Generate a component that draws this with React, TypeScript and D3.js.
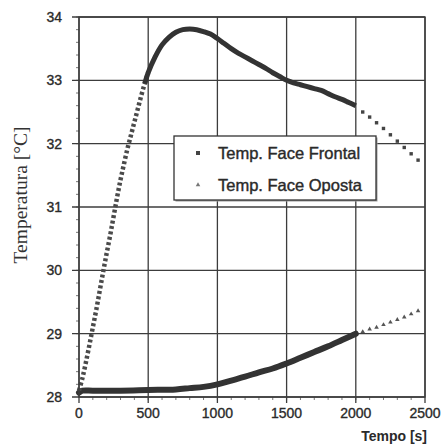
import React, { useEffect, useRef } from 'react'
import * as d3 from 'd3'

// Temperature of the front face (squares) - dense run up to 2000 s
const frontTime = [0, 25, 50, 75, 100, 125, 150, 175, 200, 225, 250, 275, 300, 325, 350, 375, 400, 425, 450, 475, 500,
  550, 600, 650, 700, 750, 800, 850, 900, 950, 1000, 1050, 1100, 1150, 1200, 1250, 1300, 1350, 1400, 1450, 1500,
  1550, 1600, 1650, 1700, 1750, 1800, 1850, 1900, 1950, 2000]
const frontTemp = [28.1, 28.3, 28.55, 28.82, 29.1, 29.38, 29.68, 29.98, 30.27, 30.55, 30.85, 31.15, 31.43, 31.68, 31.92, 32.13, 32.34, 32.55, 32.76, 32.95, 33.12,
  33.37, 33.56, 33.68, 33.76, 33.8, 33.81, 33.8, 33.77, 33.73, 33.66, 33.58, 33.5, 33.43, 33.37, 33.31, 33.25, 33.19, 33.12, 33.06, 33.0,
  32.96, 32.93, 32.9, 32.87, 32.84, 32.79, 32.74, 32.7, 32.65, 32.6]

// sparse points after 2000 s
const frontTailTime = [2050, 2100, 2150, 2200, 2250, 2300, 2350, 2400, 2450]
const frontTailTemp = [32.5, 32.42, 32.33, 32.24, 32.14, 32.04, 31.94, 31.84, 31.74]

// Temperature of the opposite face (triangles)
const backTime = [0, 25, 100, 300, 500, 700, 800, 900, 1000, 1100, 1200, 1300, 1400, 1500, 1600, 1700, 1800, 1900, 2000]
const backTemp = [28.07, 28.1, 28.1, 28.1, 28.11, 28.12, 28.14, 28.16, 28.2, 28.26, 28.32, 28.39, 28.45, 28.53, 28.62, 28.71, 28.8, 28.9, 29.0]

const backTailTime = [2050, 2100, 2150, 2200, 2250, 2300, 2350, 2400, 2450]
const backTailTemp = [29.03, 29.07, 29.1, 29.14, 29.18, 29.22, 29.26, 29.31, 29.36]

const xTicks = [0, 500, 1000, 1500, 2000, 2500]
const yTicks = [28, 29, 30, 31, 32, 33, 34]
const seriesNames = ['Temp. Face Frontal', 'Temp. Face Oposta']

const width = 447
const height = 445
const margin = { top: 17, right: 22, bottom: 48, left: 79 }

const App = () => {
  const svgRef = useRef<SVGSVGElement>(null)

  useEffect(() => {
    const svg = d3.select(svgRef.current)
    svg.selectAll('*').remove()

    const x = d3.scaleLinear().domain([0, 2500]).range([margin.left, width - margin.right])
    const y = d3.scaleLinear().domain([28, 34]).range([height - margin.bottom, margin.top])
    const ink = '#2a2a2a'
    const grid = '#3c3c3c'
    const sans = '"Liberation Sans", Arial, sans-serif'

    svg.append('rect').attr('width', width).attr('height', height).attr('fill', '#fff')

    // minor ticks outside the frame
    const minorX = d3.range(100, 2500, 100)
    svg.append('g').selectAll('line').data(minorX).enter().append('line')
      .attr('x1', d => x(d)).attr('x2', d => x(d))
      .attr('y1', y(28)).attr('y2', y(28) + 3)
      .attr('stroke', '#777').attr('stroke-width', 1)
    const minorY = d3.range(28.2, 34, 0.2)
    svg.append('g').selectAll('line').data(minorY).enter().append('line')
      .attr('x1', x(0)).attr('x2', x(0) - 3)
      .attr('y1', d => y(d)).attr('y2', d => y(d))
      .attr('stroke', '#777').attr('stroke-width', 1)

    // grid + major ticks
    svg.append('g').selectAll('line').data(xTicks).enter().append('line')
      .attr('x1', d => x(d)).attr('x2', d => x(d))
      .attr('y1', y(34)).attr('y2', y(28) + 6)
      .attr('stroke', grid).attr('stroke-width', 1.3)
    svg.append('g').selectAll('line').data(yTicks).enter().append('line')
      .attr('x1', x(0) - 7).attr('x2', x(2500))
      .attr('y1', d => y(d)).attr('y2', d => y(d))
      .attr('stroke', grid).attr('stroke-width', 1.3)

    // tick labels
    svg.append('g').selectAll('text').data(yTicks).enter().append('text')
      .attr('x', x(0) - 17).attr('y', d => y(d)).attr('dy', '0.36em')
      .attr('text-anchor', 'end')
      .style('font-family', sans).style('font-size', '14px')
      .attr('fill', ink).attr('stroke', ink).attr('stroke-width', 0.35)
      .text(d => d)
    svg.append('g').selectAll('text').data(xTicks).enter().append('text')
      .attr('x', d => x(d)).attr('y', y(28) + 21)
      .attr('text-anchor', 'middle')
      .style('font-family', sans).style('font-size', '14px')
      .attr('fill', ink).attr('stroke', ink).attr('stroke-width', 0.35)
      .text(d => d)

    // axis titles
    svg.append('text')
      .attr('x', 427).attr('y', 441).attr('text-anchor', 'end')
      .style('font-family', sans).style('font-size', '14px')
      .style('font-weight', 'bold').attr('fill', ink)
      .text('Tempo [s]')
    svg.append('text')
      .attr('transform', `translate(27, 195) rotate(-90)`).attr('text-anchor', 'middle')
      .style('font-family', '"Liberation Serif", "Times New Roman", serif').style('font-size', '19.5px')
      .attr('fill', '#333')
      .text('Temperatura [°C]')

    const line = d3.line<[number, number]>()
      .x(d => x(d[0])).y(d => y(d[1]))
      .curve(d3.curveCatmullRom)

    const front: [number, number][] = frontTime.map((t, i) => [t, frontTemp[i]])
    const back: [number, number][] = backTime.map((t, i) => [t, backTemp[i]])

    // opposite face - thick run
    svg.append('path').datum(back).attr('d', line)
      .attr('fill', 'none').attr('stroke', '#333').attr('stroke-width', 6)
      .attr('stroke-linecap', 'round')

    // front face - steep rise shows separated markers
    svg.append('path').datum(front.filter(d => d[0] <= 500)).attr('d', line)
      .attr('fill', 'none').attr('stroke', '#4a4a4a').attr('stroke-width', 4.5)
      .attr('stroke-dasharray', '3,2.5')
    svg.append('path').datum(front.filter(d => d[0] >= 475)).attr('d', line)
      .attr('fill', 'none').attr('stroke', '#333').attr('stroke-width', 5)

    // sparse tail markers
    svg.append('g').selectAll('rect').data(frontTailTime).enter().append('rect')
      .attr('x', (d) => x(d) - 1.7).attr('y', (d, i) => y(frontTailTemp[i]) - 1.7)
      .attr('width', 3.4).attr('height', 3.4).attr('fill', '#444')
    const tri = d3.symbol().type(d3.symbolTriangle).size(9)
    svg.append('g').selectAll('path').data(backTailTime).enter().append('path')
      .attr('d', tri)
      .attr('transform', (d, i) => `translate(${x(d)},${y(backTailTemp[i])})`)
      .attr('fill', '#555')

    // frame
    svg.append('rect')
      .attr('x', x(0)).attr('y', y(34))
      .attr('width', x(2500) - x(0)).attr('height', y(28) - y(34))
      .attr('fill', 'none').attr('stroke', grid).attr('stroke-width', 1.4)

    // legend
    const lg = svg.append('g').attr('transform', 'translate(174,136)')
    lg.append('rect').attr('x', 1.5).attr('y', 1.5).attr('width', 202).attr('height', 64)
      .attr('fill', '#999')
    lg.append('rect').attr('width', 202).attr('height', 64)
      .attr('fill', '#fff').attr('stroke', '#333').attr('stroke-width', 1.3)
    seriesNames.forEach((name, i) => {
      const cy = 17 + i * 32
      if (i === 0) {
        lg.append('rect').attr('x', 22).attr('y', cy - 2).attr('width', 4).attr('height', 4).attr('fill', '#444')
      } else {
        lg.append('path').attr('d', tri).attr('transform', `translate(24,${cy})`).attr('fill', '#777')
      }
      lg.append('text')
        .attr('x', 44).attr('y', cy).attr('dy', '0.36em')
        .style('font-family', sans).style('font-size', '16.5px')
        .attr('fill', ink).attr('stroke', ink).attr('stroke-width', 0.4)
        .text(name)
    })
  }, [])

  return (
    <svg ref={svgRef} width={width} height={height}
      style={{ position: 'absolute', left: 0, top: 0 }} />
  )
}

export default App
